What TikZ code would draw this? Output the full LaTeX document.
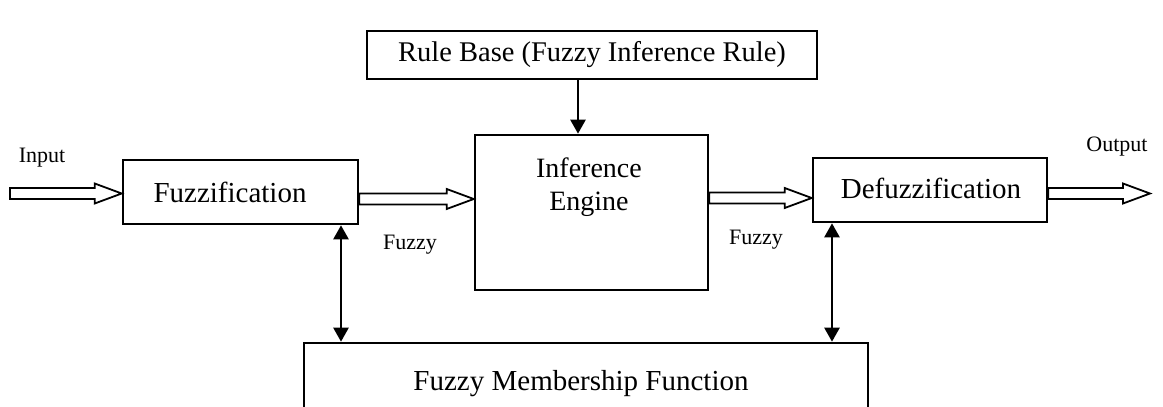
\documentclass[tikz,border=0pt]{standalone}
\usepackage{fontspec}
\setmainfont{Liberation Serif}
\usetikzlibrary{arrows.meta,calc}

\tikzset{
  blockbox/.style={draw, line width=2.6pt, inner sep=0pt, anchor=center},
  boxtext/.style={inner sep=0pt, anchor=center, align=center},
  smalltext/.style={inner sep=0pt, anchor=center, font=\fontsize{22}{26}\selectfont},
  thinarrow/.style={line width=2.4pt, -{Triangle[width=15pt,length=14pt]}},
  bothways/.style={line width=2.4pt, {Triangle[width=15pt,length=14pt]}-{Triangle[width=15pt,length=14pt]}},
  hollow/.style={draw, line width=1.8pt, fill=white, line join=miter}
}

% open block arrow from #1 to #2 (both at the same height)
\newcommand\blockarrow[2]{%
  \draw[hollow] let \p1=(#1), \p2=(#2) in
    (\x1,\y1+5.5pt) -- (\x2-27pt,\y1+5.5pt) -- (\x2-27pt,\y1+10pt) -- (\x2,\y1)
    -- (\x2-27pt,\y1-10pt) -- (\x2-27pt,\y1-5.5pt) -- (\x1,\y1-5.5pt) -- cycle;}

\begin{document}
\begin{tikzpicture}[x=1pt,y=-1pt]
  \clip (0,0) rectangle (1163,407);
  \fill[white] (0,0) rectangle (1163,407);

  % blocks
  \node[blockbox, minimum width=450pt, minimum height=48pt] (rule) at (592,55) {};
  \node[boxtext, font=\fontsize{28.5}{33}\selectfont] (ruletext) at (rule.center) {Rule Base (Fuzzy Inference Rule)};

  \node[blockbox, minimum width=235pt, minimum height=64pt] (fuzz) at (240.5,192) {};
  \node[boxtext, font=\fontsize{29}{34}\selectfont] (fuzztext) at (230,192) {Fuzzification};

  \node[blockbox, minimum width=233pt, minimum height=155pt] (inf) at (591.5,212.5) {};
  \node[boxtext, font=\fontsize{28}{33}\selectfont] (inftext) at (589,187) {Inference\\Engine};

  \node[blockbox, minimum width=234pt, minimum height=64pt] (defuzz) at (930,190) {};
  \node[boxtext, font=\fontsize{29}{34}\selectfont] (defuzztext) at (931,188) {Defuzzification};

  \node[blockbox, minimum width=564pt, minimum height=87pt] (memb) at (586,386.5) {};
  \node[boxtext, font=\fontsize{29}{34}\selectfont] (membtext) at (581,384) {Fuzzy Membership Function};

  % labels
  \node[smalltext] (inlabel) at (42,158) {Input};
  \node[smalltext] (outlabel) at (1117,147) {Output};
  \node[smalltext] (fz1) at (410,245) {Fuzzy};
  \node[smalltext] (fz2) at (756,240) {Fuzzy};

  % free ends of the input and output arrows
  \coordinate (instart) at (10,193.5);
  \coordinate (outend) at (1150,193.5);

  % crisp / fuzzy signal flow
  \blockarrow{instart}{instart -| fuzz.west}
  \blockarrow{$(fuzz.east)+(0,7)$}{$(fuzz.east -| inf.west)+(0,7)$}
  \blockarrow{$(inf.west -| inf.east)+(0,-14.5)$}{$(defuzz.west)+(0,8)$}
  \blockarrow{$(defuzz.east)+(0,3.5)$}{outend}

  % rule base feeds the engine
  \draw[thinarrow] ($(rule.south)+(-14,0)$) -- ($(inf.north)+(-13.5,0)$);

  % membership functions shared by fuzzifier and defuzzifier
  \draw[bothways] ($(fuzz.south)+(100.5,0)$) -- ($(fuzz.south |- memb.north)+(100.5,0)$);
  \draw[bothways] ($(defuzz.south)+(-98,0)$) -- ($(defuzz.south |- memb.north)+(-98,0)$);
\end{tikzpicture}
\end{document}
